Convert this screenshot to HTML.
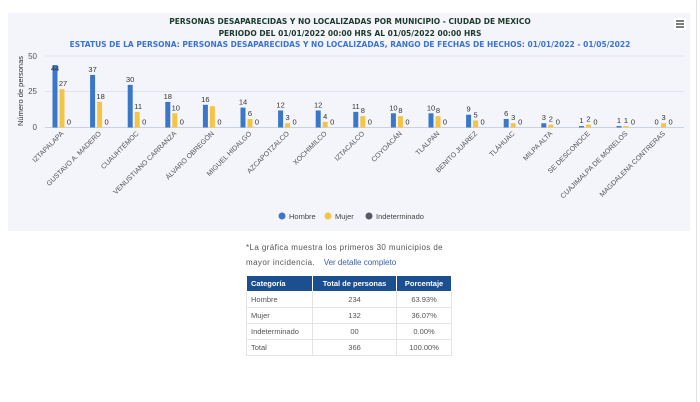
<!DOCTYPE html>
<html><head><meta charset="utf-8"><style>
body{margin:0;width:700px;height:402px;background:#fff;font-family:"Liberation Sans",sans-serif;position:relative;overflow:hidden}
.panel{position:absolute;left:8px;top:13px;width:682px;height:218px;background:#f4f4fb}
.vline{position:absolute;left:696px;top:0;width:1px;height:402px;background:#e2e2e2}
.note{position:absolute;left:246px;top:240px;font-size:8px;color:#555;line-height:15px;letter-spacing:.4px}
.note a{color:#3a5ea8;text-decoration:none;letter-spacing:0;margin-left:6px}
table{position:absolute;left:246px;top:275px;width:206px;border-collapse:collapse;font-size:7.5px;color:#555}
th{background:#1c4f8f;color:#fff;height:15px;padding:0 4px;border:1px solid #fff;font-weight:bold}
td{height:15px;padding:0 4px;border:1px solid #e4e4e4}
td:nth-child(2),td:nth-child(3),th:nth-child(2),th:nth-child(3){text-align:center}
th:first-child{text-align:left}
</style></head><body>
<div class="panel"></div>
<div class="vline"></div>
<svg width="700" height="240" style="position:absolute;left:0;top:0" font-family="Liberation Sans, sans-serif">
<text x="350" y="24" font-size="7.5" font-weight="bold" fill="#1c3a2a" text-anchor="middle" font-family="DejaVu Sans, sans-serif">PERSONAS DESAPARECIDAS Y NO LOCALIZADAS POR MUNICIPIO - CIUDAD DE MEXICO</text>
<text x="350" y="36" font-size="7.5" font-weight="bold" fill="#1c3a2a" text-anchor="middle" font-family="DejaVu Sans, sans-serif">PERIODO DEL 01/01/2022 00:00 HRS AL 01/05/2022 00:00 HRS</text>
<text x="350" y="47" font-size="7.5" font-weight="bold" fill="#3b73d6" text-anchor="middle" font-family="DejaVu Sans, sans-serif">ESTATUS DE LA PERSONA: PERSONAS DESAPARECIDAS Y NO LOCALIZADAS, RANGO DE FECHAS DE HECHOS: 01/01/2022 - 01/05/2022</text>
<rect x="674" y="18" width="12" height="12" fill="#fff"/>
<path d="M676 21h8M676 24h8M676 27h8" stroke="#333" stroke-width="1.2"/>
<g stroke="#e3e3ee" stroke-width="1"><line x1="45" x2="684" y1="56" y2="56"/><line x1="45" x2="684" y1="91.5" y2="91.5"/><line x1="45" x2="684" y1="127.5" y2="127.5" stroke="#ccd2e6"/></g>
<g font-size="8" fill="#555" text-anchor="end"><text x="37" y="59">50</text><text x="37" y="94">25</text><text x="37" y="130">0</text></g>
<text transform="translate(23,91) rotate(-90)" font-size="7.5" fill="#333" text-anchor="middle">Número de personas</text>
<g id="bars"></g>
<g font-size="7.5" fill="#444"><circle cx="282" cy="216" r="3.5" fill="#3a77c8"/><text x="289" y="219">Hombre</text>
<circle cx="328" cy="216" r="3.5" fill="#f6c445"/><text x="335" y="219">Mujer</text>
<circle cx="369" cy="216" r="3.5" fill="#555a66"/><text x="376" y="219">Indeterminado</text></g>
</svg>
<div class="note">*La gráfica muestra los primeros 30 municipios de<br>mayor incidencia. <a>Ver detalle completo</a></div>
<table>
<tr><th>Categoría</th><th>Total de personas</th><th>Porcentaje</th></tr>
<tr><td>Hombre</td><td>234</td><td>63.93%</td></tr>
<tr><td>Mujer</td><td>132</td><td>36.07%</td></tr>
<tr><td>Indeterminado</td><td>00</td><td>0.00%</td></tr>
<tr><td>Total</td><td>366</td><td>100.00%</td></tr>
</table>
<script>
var names=["IZTAPALAPA","GUSTAVO A. MADERO","CUAUHTÉMOC","VENUSTIANO CARRANZA","ÁLVARO OBREGÓN","MIGUEL HIDALGO","AZCAPOTZALCO","XOCHIMILCO","IZTACALCO","COYOACÁN","TLALPAN","BENITO JUÁREZ","TLÁHUAC","MILPA ALTA","SE DESCONOCE","CUAJIMALPA DE MORELOS","MAGDALENA CONTRERAS"];
var H=[44,37,30,18,16,14,12,12,11,10,10,9,6,3,1,1,0],M=[27,18,11,10,15,6,3,4,8,8,8,5,3,2,2,1,3];
var s="",k=1.42,b=127.5;
for(var i=0;i<17;i++){var c=55+37.6*i;
var h=H[i]*k,m=M[i]*k;
s+='<rect x="'+(c-2.5)+'" y="'+(b-h)+'" width="5" height="'+h+'" fill="#3a77c8"/>';
s+='<rect x="'+(c+4.5)+'" y="'+(b-m)+'" width="5" height="'+m+'" fill="#f6c445"/>';
s+='<text x="'+c+'" y="'+(b-h-3+(i==0?9:0))+'" font-size="7.5" fill="#333" text-anchor="middle">'+H[i]+'</text>';
if(i!=4)s+='<text x="'+(c+7+(M[i]<10?0:1))+'" y="'+(b-m-3)+'" font-size="7.5" fill="#333" text-anchor="middle">'+M[i]+'</text>';
s+='<text x="'+(c+14)+'" y="'+(b-3)+'" font-size="7.5" fill="#333" text-anchor="middle">0</text>';
s+='<text transform="translate('+(c+9)+',134) rotate(-45)" font-size="7" fill="#555" text-anchor="end">'+names[i]+'</text>';}
document.getElementById("bars").innerHTML=s;
</script>
</body></html>
